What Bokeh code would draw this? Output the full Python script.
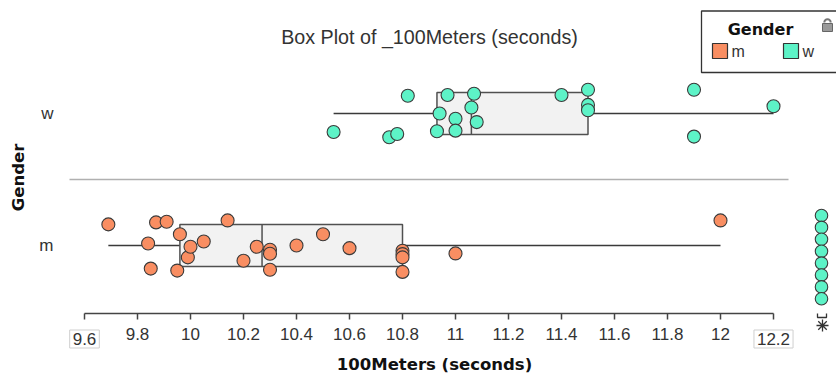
import math
from bokeh.plotting import figure
from bokeh.models import Range1d, LinearAxis, FixedTicker, Label
from bokeh.core.properties import value
from bokeh.embed import file_html
from bokeh.resources import INLINE

# ---------------- data ----------------
genders = ["m", "w"]
gender_colors = ["#F98E62", "#5DF3C7"]

m_times = [9.69, 9.84, 9.85, 9.87, 9.91, 9.95, 9.96, 9.99, 10.0, 10.05, 10.14, 10.2, 10.25,
           10.3, 10.3, 10.3, 10.4, 10.5, 10.6, 10.8, 10.8, 10.8, 10.8, 11.0, 12.0]
m_jitter = [0.16, 0.015, -0.175, 0.175, 0.18, -0.19, 0.085, -0.09, -0.01, 0.03, 0.19, -0.115, -0.01,
            -0.032, -0.063, -0.184, 0.0, 0.085, -0.02, -0.04, -0.065, -0.09, -0.2, -0.06, 0.19]

w_times = [10.54, 10.75, 10.78, 10.82, 10.93, 10.94, 10.97, 11.0, 11.0, 11.06, 11.07, 11.08,
           11.4, 11.5, 11.5, 11.5, 11.9, 11.9, 12.2]
w_jitter = [-0.14, -0.18, -0.155, 0.135, -0.135, 0.0, 0.14, -0.04, -0.13, 0.045, 0.15, -0.065,
            0.14, 0.18, 0.065, 0.025, 0.18, -0.175, 0.055]

# five-number summaries as drawn: whisker low, Q1, median, Q3, whisker high (m, w)
box_low = [9.69, 10.54]
box_q1 = [9.96, 10.93]
box_median = [10.27, 11.06]
box_q3 = [10.80, 11.50]
box_high = [12.00, 12.20]

x_ticks = [9.6, 9.8, 10.0, 10.2, 10.4, 10.6, 10.8, 11.0, 11.2, 11.4, 11.6, 11.8, 12.0, 12.2]
x_tick_labels = ["9.6", "9.8", "10", "10.2", "10.4", "10.6", "10.8", "11", "11.2", "11.4",
                 "11.6", "11.8", "12", "12.2"]

title_text = "Box Plot of _100Meters (seconds)"
x_label = "100Meters (seconds)"
y_label = "Gender"

# ---------------- layout helpers (canvas px -> data) ----------------
W, H = 836, 376
PX0, KX = 84.0, 265.0     # canvas x of first tick, px per second
PY0, KY = 245.0, 132.0    # canvas y of category 0, px per category


def dx(px):
    return x_ticks[0] + (px - PX0) / KX


def dy(py):
    return (PY0 - py) / KY


HALF = 0.16
INK = "#3a3a3a"
TXT = "#333333"
TICK_FONT = "Liberation Sans"
BOLD_FONT = "DejaVu Sans"

p = figure(width=W, height=H, x_range=Range1d(dx(0), dx(W)), y_range=Range1d(dy(H), dy(0)),
           output_backend="svg", toolbar_location=None, x_axis_location=None, y_axis_location=None,
           min_border=0)
p.outline_line_color = None
p.xgrid.visible = False
p.ygrid.visible = False
p.background_fill_color = "white"
p.border_fill_color = "white"

# y axis (categories), drawn at the left edge of the plotting area
ya = LinearAxis(ticker=FixedTicker(ticks=list(range(len(genders)))), fixed_location=dx(69),
                major_label_overrides={i: g for i, g in enumerate(genders)},
                axis_line_color=None, major_tick_line_color=None, minor_tick_line_color=None,
                major_label_text_font=TICK_FONT, major_label_text_font_size="17px",
                major_label_text_color=TXT, major_label_standoff=10)
p.add_layout(ya, "left")

# x axis
overrides = dict(zip(x_ticks, x_tick_labels))
overrides[x_ticks[0]] = ""
overrides[x_ticks[-1]] = ""
xa = LinearAxis(ticker=FixedTicker(ticks=x_ticks), fixed_location=dy(313),
                bounds=(x_ticks[0], x_ticks[-1]), major_label_overrides=overrides,
                axis_line_color="#444444", axis_line_width=1.5,
                major_tick_line_color="#444444", major_tick_line_width=1.5,
                major_tick_out=6, major_tick_in=0, minor_tick_line_color=None,
                major_label_text_font=TICK_FONT, major_label_text_font_size="17px",
                major_label_text_color=TXT, major_label_standoff=8)
p.add_layout(xa, "below")

for t, lab in ((x_ticks[0], x_tick_labels[0]), (x_ticks[-1], x_tick_labels[-1])):
    p.add_layout(Label(x=t, y=dy(338.5), text=lab, text_align="center", text_baseline="middle",
                       text_font=TICK_FONT, text_font_size="17px", text_color=TXT,
                       border_line_color="#cfcfcf", border_line_width=1, padding=3))

# axis titles and chart title
p.add_layout(Label(x=dx(18), y=dy(177), text=y_label, angle=math.pi / 2, text_align="center",
                   text_baseline="middle", text_font=BOLD_FONT, text_font_style="bold",
                   text_font_size="16.5px", text_color="#111111"))
p.add_layout(Label(x=dx(434), y=dy(364), text=x_label, text_align="center", text_baseline="middle",
                   text_font=BOLD_FONT, text_font_style="bold", text_font_size="16.5px",
                   text_color="#111111"))
p.add_layout(Label(x=dx(429), y=dy(36), text=title_text, text_align="center", text_baseline="middle",
                   text_font=TICK_FONT, text_font_size="19.7px", text_color=TXT))

# separator between categories
p.segment(x0=[dx(69)], x1=[dx(788)], y0=[0.5], y1=[0.5], line_color="#b0b0b0", line_width=1.6)

cats = list(range(len(genders)))
# whiskers
p.segment(x0=box_low, x1=box_q1, y0=cats, y1=cats, line_color=INK, line_width=1.5)
p.segment(x0=box_q3, x1=box_high, y0=cats, y1=cats, line_color=INK, line_width=1.5)
# boxes
p.quad(left=box_q1, right=box_q3, bottom=[c - HALF for c in cats], top=[c + HALF for c in cats],
       fill_color="#f2f2f2", line_color="#505050", line_width=1.5)
p.segment(x0=box_median, x1=box_median, y0=[c - HALF for c in cats], y1=[c + HALF for c in cats],
          line_color="#505050", line_width=1.5)

# points
for ci, (times, jit) in enumerate(((m_times, m_jitter), (w_times, w_jitter))):
    p.scatter(x=times, y=[ci + j for j in jit], size=13, marker="circle",
              fill_color=gender_colors[ci], line_color=INK, line_width=1.1)

# legend (key)
p.quad(left=[dx(701)], right=[dx(850)], top=[dy(10.5)], bottom=[dy(72)],
       fill_color="white", line_color="#333333", line_width=1.3)
p.text(x=[dx(760)], y=[dy(29)], text=[y_label], text_align="center", text_baseline="middle",
       text_font=value(BOLD_FONT), text_font_style="bold", text_font_size=value("16px"),
       text_color="#111111")
n = len(genders)
p.quad(left=[dx(712 + 71 * i) for i in range(n)], right=[dx(727 + 71 * i) for i in range(n)],
       top=[dy(43)] * n, bottom=[dy(58)] * n,
       fill_color=gender_colors, line_color="#333333", line_width=1.2)
p.text(x=[dx(731 + 71 * i) for i in range(n)], y=[dy(51)] * n, text=genders,
       text_align="left", text_baseline="middle", text_font=value(TICK_FONT),
       text_font_size=value("16px"), text_color=TXT)

# lock icon
p.arc(x=[dx(827)], y=[dy(22)], radius=3.2, radius_units="screen", start_angle=0, end_angle=math.pi,
      line_color="#777777", line_width=2)
p.quad(left=[dx(822)], right=[dx(832)], top=[dy(23)], bottom=[dy(31)], fill_color="#9a9a9a",
       line_color="#666666", line_width=1)

# right-side strip
n_strip = 8
p.scatter(x=[dx(821)] * n_strip, y=[dy(215 + 11.9 * i) for i in range(n_strip)], size=12.5,
          marker="circle", fill_color=gender_colors[1], line_color=INK, line_width=1.1)
p.multi_line(xs=[[dx(817), dx(817), dx(826), dx(826)]], ys=[[dy(313), dy(317), dy(317), dy(313)]],
             line_color="#333333", line_width=1.3)
p.scatter(x=[dx(822)], y=[dy(325)], marker="asterisk", size=12, line_color="#333333", line_width=1.3)

open("out.html", "w").write(file_html(p, INLINE))
